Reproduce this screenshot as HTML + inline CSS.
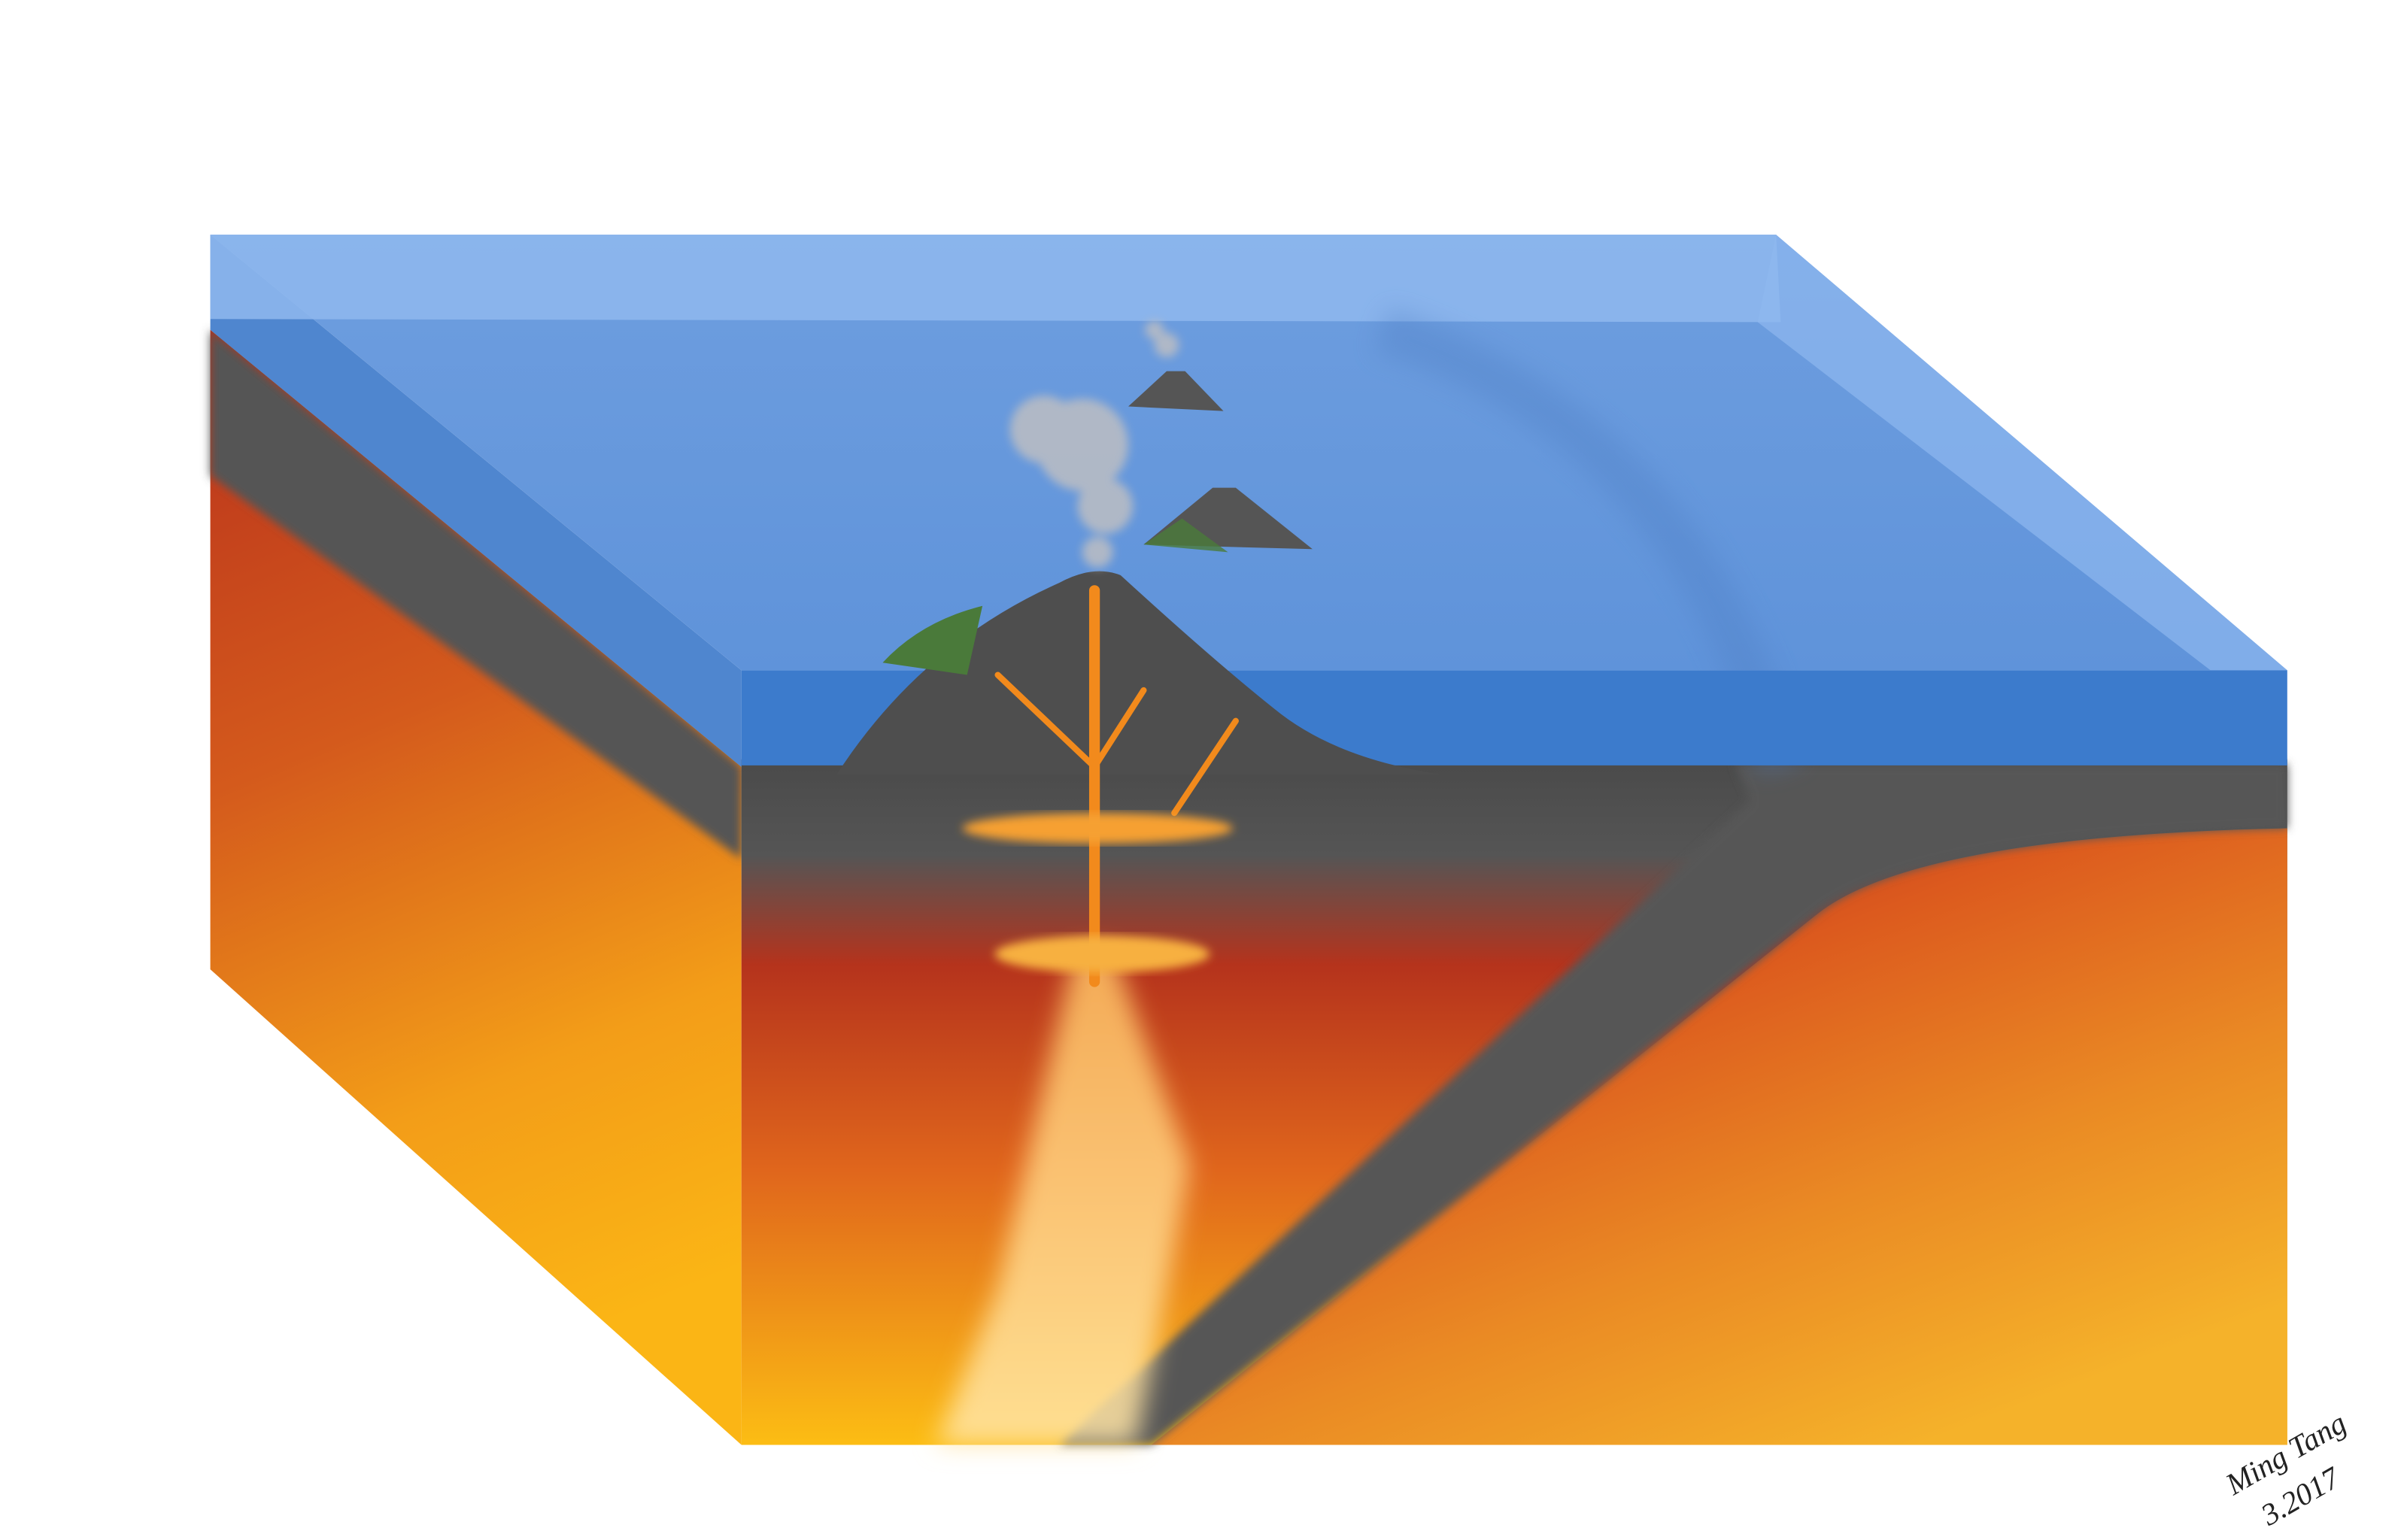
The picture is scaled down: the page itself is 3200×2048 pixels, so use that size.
<!DOCTYPE html>
<html><head><meta charset="utf-8"><style>
html,body{margin:0;padding:0;background:#fff;width:3200px;height:2048px;overflow:hidden}
svg{display:block}
</style></head><body>
<svg width="3200" height="2048" viewBox="0 0 1568 1004" preserveAspectRatio="none" xmlns="http://www.w3.org/2000/svg">
<defs>
<linearGradient id="frontG" x1="0" y1="0" x2="0" y2="1">
<stop offset="0" stop-color="#4a4a4a"/><stop offset="0.14" stop-color="#555"/><stop offset="0.3" stop-color="#b5331c"/><stop offset="0.6" stop-color="#e0661c"/><stop offset="1" stop-color="#fcbd14"/></linearGradient>
<linearGradient id="leftG" x1="0" y1="0" x2="0.2" y2="1">
<stop offset="0" stop-color="#b8301c"/><stop offset="0.4" stop-color="#d45a1c"/><stop offset="0.75" stop-color="#f39d18"/><stop offset="1" stop-color="#fbb515"/></linearGradient>
<linearGradient id="plateG" x1="0.15" y1="0.1" x2="0.75" y2="0.95">
<stop offset="0" stop-color="#b8301c"/><stop offset="0.3" stop-color="#dc5a1e"/><stop offset="0.65" stop-color="#ea8a24"/><stop offset="1" stop-color="#f5b22a"/></linearGradient>
<linearGradient id="topG" x1="0" y1="0" x2="0" y2="1">
<stop offset="0" stop-color="#6e9edf"/><stop offset="1" stop-color="#5f93da"/></linearGradient>
<linearGradient id="plumeG" x1="0" y1="0" x2="0" y2="1">
<stop offset="0" stop-color="#ffc060" stop-opacity="0.85"/><stop offset="1" stop-color="#ffe6a8" stop-opacity="0.85"/></linearGradient>
<filter id="blur"><feGaussianBlur stdDeviation="8"/></filter>
<filter id="blur2"><feGaussianBlur stdDeviation="3"/></filter>
</defs>
<polygon points="137,215 483,500 483,942 137,632" fill="url(#leftG)"/>
<polygon points="137,215 483,500 483,560 137,310" fill="#555" filter="url(#blur2)"/>
<polygon points="137,153 483,437 483,500 137,215" fill="#4f86cf"/>
<rect x="483" y="495" width="1007" height="447" fill="url(#frontG)"/>
<path d="M1490,540 Q1250,545 1185,595 L750,942 L1490,942 Z" fill="url(#plateG)"/>
<path d="M1130,498 L1490,498 L1490,540 Q1250,545 1185,595 L750,942 L690,942 L1140,522 Z" fill="#575757" filter="url(#blur2)"/>
<path d="M700,620 L725,620 L775,760 L740,942 L610,942 L650,840 Z" fill="url(#plumeG)" filter="url(#blur)"/>
<polygon points="137,153 1157,153 1490,437 483,437" fill="url(#topG)"/>
<polygon points="137,153 1157,153 1160,210 137,208" fill="#8fb8ef" opacity="0.85"/>
<polygon points="1157,153 1490,437 1440,437 1145,210" fill="#8fb8ef" opacity="0.7"/>
<path d="M900,215 Q1100,280 1160,500" stroke="#4f7fc4" stroke-width="30" fill="none" opacity="0.35" filter="url(#blur)"/>
<rect x="483" y="437" width="1007" height="62" fill="#3c7bcc"/>
<path d="M545,505 Q600,420 690,380 Q712,368 730,375 Q790,430 830,462 Q870,495 940,505 Z" fill="#4e4e4e"/>
<path d="M575,432 Q600,405 640,395 L630,440 Z" fill="#4a7a3a"/>
<g stroke="#f28a1c" fill="none" stroke-linecap="round">
<path d="M713,385 L713,640" stroke-width="7"/>
<path d="M713,500 L650,440" stroke-width="4"/>
<path d="M713,500 L745,450" stroke-width="4"/>
<path d="M765,530 L805,470" stroke-width="4"/>
</g>
<ellipse cx="715" cy="540" rx="88" ry="10" fill="#f6a030" filter="url(#blur2)"/>
<ellipse cx="718" cy="622" rx="70" ry="12" fill="#f7b040" filter="url(#blur2)"/>
<path d="M735,265 L760,242 L772,242 L797,268 Z" fill="#555"/>
<path d="M745,355 L790,318 L805,318 L855,358 Z" fill="#555"/>
<path d="M745,355 L770,338 L800,360 Z" fill="#4a7a3a" opacity="0.8"/>
<g fill="#b8bcc4" filter="url(#blur2)" opacity="0.9">
<circle cx="705" cy="290" r="30"/><circle cx="680" cy="280" r="22"/><circle cx="720" cy="330" r="18"/><circle cx="715" cy="360" r="10"/><circle cx="760" cy="225" r="8"/><circle cx="752" cy="215" r="6"/>
</g>
<text x="1455" y="975" transform="rotate(-30 1455 975)" font-family="Liberation Serif, serif" font-style="italic" font-size="20" fill="#222">Ming Tang</text>
<text x="1478" y="995" transform="rotate(-30 1478 995)" font-family="Liberation Serif, serif" font-style="italic" font-size="20" fill="#222">3.2017</text>
</svg>
</body></html>
